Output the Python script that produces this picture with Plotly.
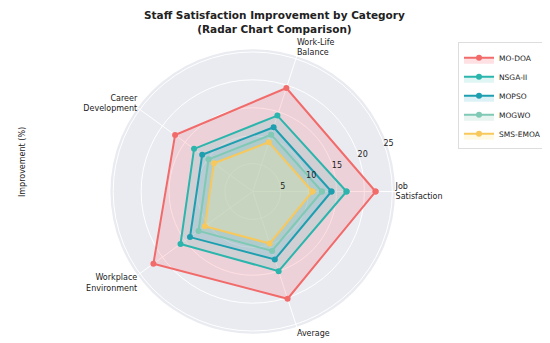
import plotly.graph_objects as go

categories = ["Job<br>Satisfaction", "Work-Life<br>Balance", "Career<br>Development",
              "Workplace<br>Environment", "Average"]
series_names = ["MO-DOA", "NSGA-II", "MOPSO", "MOGWO", "SMS-EMOA"]
mo_doa = [22.0, 19.5, 17.2, 22.0, 20.2]
nsga_ii = [16.8, 14.3, 13.0, 16.0, 15.0]
mopso = [14.1, 12.1, 11.2, 13.9, 12.8]
mogwo = [12.4, 10.7, 9.8, 12.0, 11.2]
sms_emoa = [10.7, 9.3, 8.6, 10.6, 9.8]
radial_ticks = [5, 10, 15, 20, 25]

series_values = [mo_doa, nsga_ii, mopso, mogwo, sms_emoa]
line_colors = ["#F26B6B", "#2BB5AC", "#1E9FB0", "#7FC9B5", "#F7C85C"]
fill_colors = ["rgba(255,107,120,0.20)", "rgba(78,205,196,0.18)", "rgba(69,183,209,0.18)",
               "rgba(150,206,180,0.22)", "rgba(255,234,167,0.30)"]

fig = go.Figure()
for name, vals, lc, fc in zip(series_names, series_values, line_colors, fill_colors):
    fig.add_trace(go.Scatterpolar(
        r=vals + vals[:1],
        theta=categories + categories[:1],
        mode="lines+markers",
        name=name,
        line=dict(color=lc, width=2),
        marker=dict(color=lc, size=6),
        fill="toself",
        fillcolor=fc,
    ))

fig.update_layout(
    width=550, height=343,
    margin=dict(l=0, r=0, t=0, b=0),
    paper_bgcolor="white",
    font=dict(family="DejaVu Sans", size=8, color="#222"),
    polar=dict(
        domain=dict(x=[0.185, 0.705], y=[0.05, 0.88]),
        bgcolor="#E9EBF1",
        angularaxis=dict(
            direction="counterclockwise", rotation=0,
            gridcolor="white", showline=False,
            tickfont=dict(size=8, color="#222"), ticks="",
        ),
        radialaxis=dict(
            range=[0, 25.5], angle=22.5, tickangle=22.5,
            tickvals=radial_ticks, ticktext=[str(t) for t in radial_ticks],
            gridcolor="white", showline=False, ticks="",
            tickfont=dict(size=8, color="#222"),
        ),
    ),
    legend=dict(
        x=0.98, y=0.90, xanchor="right", yanchor="top",
        bgcolor="white", bordercolor="#DDDDDD", borderwidth=1,
        font=dict(size=7.5), itemwidth=30, tracegroupgap=0,
    ),
    showlegend=True,
    annotations=[
        dict(
            text="<b>Staff Satisfaction Improvement by Category<br>(Radar Chart Comparison)</b>",
            x=0.485, y=1.004, xref="paper", yref="paper", xanchor="center", yanchor="top",
            showarrow=False, font=dict(size=10.5, color="#222"),
        ),
        dict(
            text="Improvement (%)", textangle=-90, x=0.015, y=0.55,
            xref="paper", yref="paper", showarrow=False,
            font=dict(size=8, color="#222"),
        ),
    ],
)

fig.write_html("out.html")
